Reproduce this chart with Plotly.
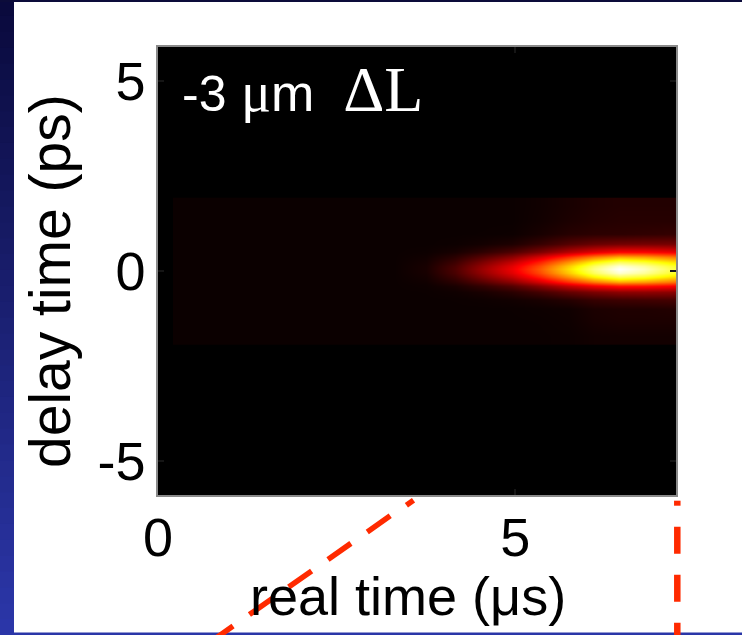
import numpy as np
import plotly.graph_objects as go

# ---- data: delay-time vs real-time intensity map (normalised) ----
real_time_us = [0.41, 0.81, 3.3, 3.75, 4.15, 4.55, 4.95, 5.35, 5.75, 6.1, 6.45, 6.8, 7.15, 7.5]
delay_ps = [-1.73, -1.33, -1.0, -0.75, -0.55, -0.4, -0.27, -0.15, -0.05,
            0.05, 0.15, 0.25, 0.37, 0.52, 0.72, 0.97, 1.33, 1.73]

# one delay profile per real-time sample (bottom -> top)
profile_0_41 = [0] * 18
profile_0_81 = [0] * 18
profile_3_30 = [0] * 18
profile_3_75 = [0, 0, 0, 0, 0.001, 0.004, 0.009, 0.015, 0.019, 0.02, 0.019, 0.015, 0.009, 0.003, 0, 0, 0, 0]
profile_4_15 = [0, 0, 0, 0.001, 0.007, 0.023, 0.047, 0.074, 0.093, 0.1, 0.093, 0.074, 0.047, 0.019, 0.003, 0, 0, 0]
profile_4_55 = [0, 0, 0, 0.004, 0.022, 0.061, 0.114, 0.171, 0.206, 0.22, 0.206, 0.171, 0.114, 0.054, 0.013, 0.001, 0, 0]
profile_4_95 = [0, 0, 0.001, 0.01, 0.046, 0.11, 0.192, 0.272, 0.322, 0.34, 0.322, 0.272, 0.192, 0.10, 0.028, 0.003, 0, 0]
profile_5_35 = [0, 0.001, 0.004, 0.022, 0.086, 0.186, 0.304, 0.412, 0.476, 0.5, 0.476, 0.412, 0.304, 0.17, 0.066, 0.02, 0.01, 0.008]
profile_5_75 = [0.002, 0.005, 0.008, 0.04, 0.134, 0.277, 0.438, 0.582, 0.669, 0.7, 0.669, 0.582, 0.438, 0.254, 0.11, 0.04, 0.025, 0.02]
profile_6_10 = [0.01, 0.02, 0.025, 0.065, 0.17, 0.348, 0.55, 0.732, 0.84, 0.88, 0.84, 0.732, 0.55, 0.319, 0.14, 0.048, 0.035, 0.03]
profile_6_45 = [0.012, 0.025, 0.03, 0.075, 0.195, 0.395, 0.625, 0.832, 0.955, 1.0, 0.955, 0.832, 0.625, 0.363, 0.155, 0.05, 0.04, 0.035]
profile_6_80 = [0.012, 0.025, 0.03, 0.08, 0.2, 0.391, 0.603, 0.79, 0.90, 0.94, 0.90, 0.79, 0.603, 0.362, 0.16, 0.055, 0.04, 0.035]
profile_7_15 = [0.012, 0.025, 0.035, 0.085, 0.195, 0.368, 0.553, 0.713, 0.806, 0.84, 0.806, 0.713, 0.553, 0.341, 0.16, 0.06, 0.04, 0.035]
profile_7_50 = [0.012, 0.025, 0.035, 0.08, 0.175, 0.333, 0.5, 0.645, 0.73, 0.76, 0.73, 0.645, 0.5, 0.31, 0.145, 0.055, 0.04, 0.035]

profiles = [profile_0_41, profile_0_81, profile_3_30, profile_3_75, profile_4_15,
            profile_4_55, profile_4_95, profile_5_35, profile_5_75, profile_6_10,
            profile_6_45, profile_6_80, profile_7_15, profile_7_50]

x_ticks = [0, 5]
x_ticktext = ["0", "5"]
y_ticks = [-5, 0, 5]
y_ticktext = ["-5", "0", "5"]

# MATLAB-style "hot" colormap
hot = [
    [0.0, "rgb(11,0,0)"],
    [0.365, "rgb(255,0,0)"],
    [0.746, "rgb(255,255,0)"],
    [1.0, "rgb(255,255,255)"],
]

W_FIG, H_FIG = 742, 635
ML, MR, MT, MB = 158, 66, 47, 140
PW, PH = W_FIG - ML - MR, H_FIG - MT - MB


def fx(px):
    return (px - ML) / PW


def fy(py):
    return (H_FIG - MB - py) / PH


SANS = "Arial, 'Liberation Sans', sans-serif"
SERIF_CSS = "font-family:'Times New Roman','Liberation Serif',serif"

fig = go.Figure()
fig.add_trace(go.Heatmap(
    x=real_time_us,
    y=delay_ps,
    z=np.array(profiles),
    transpose=True,
    zmin=0, zmax=1,
    zsmooth="best",
    colorscale=hot,
    showscale=False,
    hoverinfo="skip",
))

axis_common = dict(
    showgrid=False, zeroline=False,
    showline=True, linecolor="#8a8a8a", linewidth=1.5, mirror="ticks",
    ticks="inside", ticklen=6, tickwidth=2, tickcolor="#151515",
    tickfont=dict(family=SANS, size=54, color="black"),
)

fig.update_xaxes(range=[0, 7.25], tickvals=x_ticks, ticktext=x_ticktext,
                 ticklabelstandoff=-6, **axis_common)
fig.update_yaxes(range=[-5.9, 5.9], tickvals=y_ticks, ticktext=y_ticktext, **axis_common)

annotations = [
    dict(text=("<span style=\"font-size:50px\">-3</span> "
               "<span style=\"%s;font-size:56px\">μ</span>m  "
               "<span style=\"%s;font-size:64px\">ΔL</span>") % (SERIF_CSS, SERIF_CSS),
         x=fx(180), y=fy(89), xref="paper", yref="paper",
         xanchor="left", yanchor="middle", showarrow=False,
         font=dict(family=SANS, size=52, color="white")),
    dict(text="real time (μs)", x=fx(408), y=fy(596), xref="paper", yref="paper",
         xanchor="center", yanchor="middle", showarrow=False,
         font=dict(family=SANS, size=54, color="black")),
    dict(text="delay time (ps)", x=fx(50), y=fy(281), xref="paper", yref="paper",
         xanchor="center", yanchor="middle", showarrow=False, textangle=-90,
         font=dict(family=SANS, size=57, color="black")),
]

shapes = []
# slide frame: blue gradient strip on the left, thin rules top and bottom
n_bands = 40
top_c = np.array([10, 10, 60])
bot_c = np.array([44, 55, 170])
for i in range(n_bands):
    y0 = H_FIG * i / n_bands
    y1 = H_FIG * (i + 1) / n_bands + 3
    c = top_c + (bot_c - top_c) * (i + 0.5) / n_bands
    shapes.append(dict(type="rect", xref="paper", yref="paper",
                       x0=fx(-2), x1=fx(14), y0=fy(y0), y1=fy(y1),
                       fillcolor="rgb(%d,%d,%d)" % tuple(c.astype(int)), line_width=0))
shapes.append(dict(type="rect", xref="paper", yref="paper",
                   x0=fx(0), x1=fx(W_FIG + 2), y0=fy(-2), y1=fy(2),
                   fillcolor="rgb(12,12,58)", line_width=0))
shapes.append(dict(type="rect", xref="paper", yref="paper",
                   x0=fx(0), x1=fx(W_FIG + 2), y0=fy(632.5), y1=fy(H_FIG + 2),
                   fillcolor="rgb(42,54,168)", line_width=0))

RED = "#ff2a00"
# dashed guide dropping from the right edge of the axes
shapes.append(dict(type="line", xref="paper", yref="paper",
                   x0=fx(677.3), x1=fx(677.3), y0=fy(500.7), y1=fy(505.7),
                   line=dict(color=RED, width=6.5)))
shapes.append(dict(type="line", xref="paper", yref="paper",
                   x0=fx(677.3), x1=fx(677.3), y0=fy(526.7), y1=fy(660),
                   line=dict(color=RED, width=6.5, dash="27px,21px")))
# dashed guide running down to the left
shapes.append(dict(type="line", xref="paper", yref="paper",
                   x0=fx(413.5), x1=fx(406.4), y0=fy(500.3), y1=fy(505.3),
                   line=dict(color=RED, width=5.5)))
shapes.append(dict(type="line", xref="paper", yref="paper",
                   x0=fx(390.2), x1=fx(199.0), y0=fy(515.8), y1=fy(650.0),
                   line=dict(color=RED, width=5.5, dash="28px,20px")))

fig.update_layout(
    width=W_FIG, height=H_FIG,
    margin=dict(l=ML, r=MR, t=MT, b=MB, autoexpand=False),
    paper_bgcolor="white", plot_bgcolor="black",
    showlegend=False,
    annotations=annotations,
    shapes=shapes,
)

fig.write_html("out.html")
